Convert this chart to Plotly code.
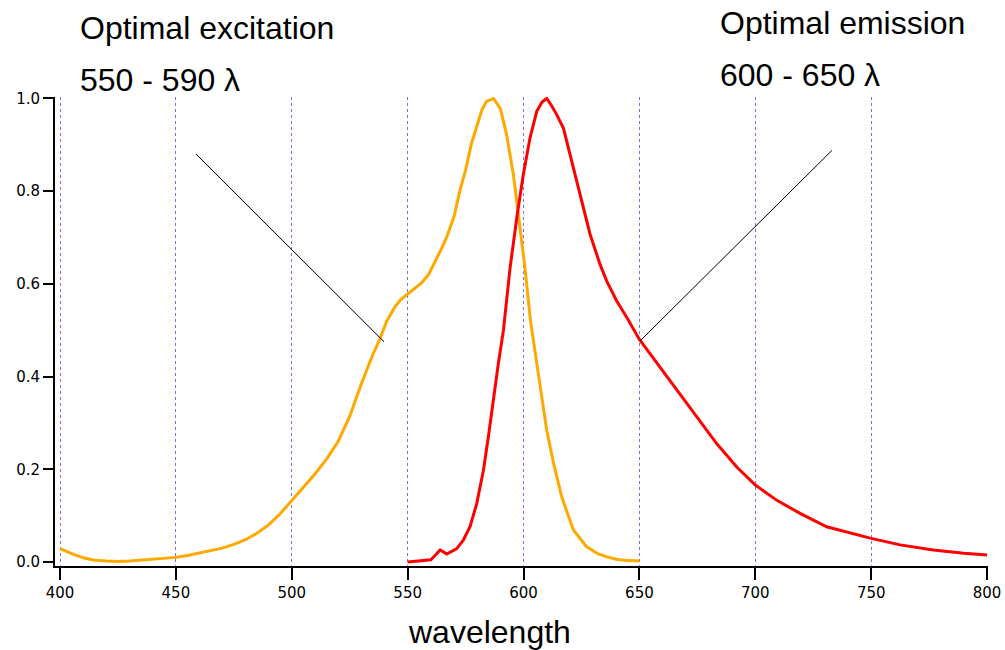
import plotly.graph_objects as go

# Excitation spectrum (orange)
ex_wl = [400, 405, 410, 415, 420, 425, 430, 435, 440, 445, 450, 455, 460, 465, 470,
         475, 480, 485, 490, 495, 500, 505, 510, 515, 520, 525, 530, 535, 538, 541,
         544.6, 547, 550, 553, 556, 559, 562.5, 565, 567, 570, 572.5, 575, 577.5, 580,
         582, 584, 587, 590, 592.7, 595.6, 597.8, 600.6, 603, 605.7, 607.8, 610, 613,
         616.5, 621.5, 627, 632, 636, 640, 645, 650]
ex_val = [0.029, 0.018, 0.009, 0.004, 0.002, 0.001, 0.002, 0.004, 0.006, 0.008, 0.010,
          0.014, 0.019, 0.024, 0.030, 0.038, 0.048, 0.062, 0.080, 0.104, 0.133, 0.160,
          0.190, 0.222, 0.260, 0.314, 0.384, 0.448, 0.481, 0.520, 0.551, 0.566, 0.578,
          0.588, 0.602, 0.620, 0.653, 0.680, 0.703, 0.745, 0.800, 0.846, 0.902, 0.945,
          0.975, 0.993, 1.0, 0.978, 0.922, 0.836, 0.750, 0.635, 0.520, 0.427, 0.356,
          0.284, 0.212, 0.140, 0.069, 0.034, 0.018, 0.011, 0.006, 0.003, 0.002]

# Emission spectrum (red)
em_wl = [550, 555, 560, 562, 564, 566.9, 569, 571.2, 574, 576.9, 579.8, 582.7, 584.8,
         587, 589.1, 591.3, 594.2, 597.1, 599.9, 602.8, 605.7, 608, 610, 612, 614.3,
         617.2, 619.3, 622.9, 625.8, 628.7, 633, 635.9, 640.2, 644.5, 650, 658.9, 667.5,
         676.2, 683.4, 692, 700, 709.3, 719.3, 730.8, 741, 750, 762.5, 776.8, 790, 800]
em_val = [0.000, 0.002, 0.005, 0.015, 0.026, 0.017, 0.022, 0.029, 0.047, 0.076, 0.126,
          0.198, 0.269, 0.356, 0.427, 0.499, 0.635, 0.743, 0.836, 0.915, 0.972, 0.992,
          1.0, 0.985, 0.965, 0.936, 0.893, 0.822, 0.764, 0.707, 0.642, 0.606, 0.563,
          0.528, 0.480, 0.420, 0.363, 0.305, 0.255, 0.205, 0.166, 0.133, 0.105, 0.076,
          0.062, 0.051, 0.037, 0.026, 0.019, 0.015]

x_ticks = [400, 450, 500, 550, 600, 650, 700, 750, 800]
y_ticks = [0.0, 0.2, 0.4, 0.6, 0.8, 1.0]
y_tick_text = ["0.0", "0.2", "0.4", "0.6", "0.8", "1.0"]

# Pointer lines (wavelength, intensity)
ex_pointer = [(458.7, 0.880), (539.8, 0.475)]
em_pointer = [(650.3, 0.477), (733.1, 0.888)]

fig = go.Figure()
fig.add_trace(go.Scatter(x=ex_wl, y=ex_val, mode="lines",
                         line=dict(color="#FFA800", width=3), showlegend=False))
fig.add_trace(go.Scatter(x=em_wl, y=em_val, mode="lines",
                         line=dict(color="#FF0000", width=3), showlegend=False))

for p in (ex_pointer, em_pointer):
    fig.add_shape(type="line", x0=p[0][0], y0=p[0][1], x1=p[1][0], y1=p[1][1],
                  xref="x", yref="y", line=dict(color="black", width=1))

tick_font = dict(family="DejaVu Sans", size=15, color="black")
big_font = dict(family="Liberation Sans, Arial, sans-serif", size=32, color="black")

fig.update_layout(
    width=1005, height=650,
    margin=dict(l=55, r=17, t=97, b=84),
    paper_bgcolor="white", plot_bgcolor="white",
    xaxis=dict(range=[397.84, 800.4], tickvals=x_ticks, showline=True, linecolor="black",
               linewidth=2, ticks="outside", ticklen=12, tickwidth=1.5, tickcolor="black",
               showgrid=True, gridcolor="#7070ff", griddash="dot", gridwidth=1,
               zeroline=False, tickfont=tick_font, automargin=False),
    yaxis=dict(range=[-0.0086, 1.003], tickvals=y_ticks, ticktext=y_tick_text,
               showline=True, linecolor="black", linewidth=2, ticks="outside",
               ticklen=10, tickwidth=1.5, tickcolor="black", showgrid=False,
               zeroline=False, tickfont=tick_font, automargin=False),
    annotations=[
        dict(text="Optimal excitation", x=0.0247, y=1.147, xref="paper", yref="paper",
             xanchor="left", yanchor="middle", showarrow=False, font=big_font),
        dict(text="550 - 590 λ", x=0.0247, y=1.036, xref="paper", yref="paper",
             xanchor="left", yanchor="middle", showarrow=False, font=big_font),
        dict(text="Optimal emission", x=0.7106, y=1.157, xref="paper", yref="paper",
             xanchor="left", yanchor="middle", showarrow=False, font=big_font),
        dict(text="600 - 650 λ", x=0.7106, y=1.047, xref="paper", yref="paper",
             xanchor="left", yanchor="middle", showarrow=False, font=big_font),
        dict(text="wavelength", x=0.466, y=-0.1407, xref="paper", yref="paper",
             xanchor="center", yanchor="middle", showarrow=False, font=big_font),
    ],
)

fig.write_html("out.html", config={"displayModeBar": False},
               post_script="document.body.style.margin='0';document.body.style.overflow='hidden';")
